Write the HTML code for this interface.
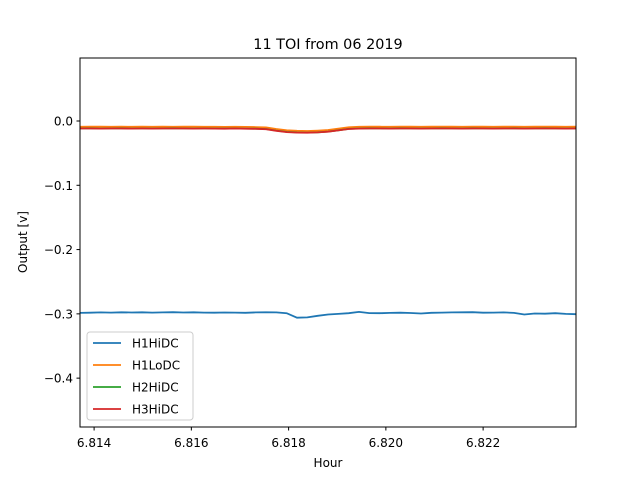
<!DOCTYPE html>
<html><head><meta charset="utf-8"><style>
body{margin:0;background:#fff;}
svg text{font-family:"DejaVu Sans","Liberation Sans",sans-serif;}
</style></head><body>
<svg id="chart" width="640" height="480" xmlns="http://www.w3.org/2000/svg">
<rect width="640" height="480" fill="#fff"/>
<text x="328" y="49" font-size="14.4" text-anchor="middle">11 TOI from 06 2019</text>
<g id="plot"></g>
<text x="328" y="467" font-size="12" text-anchor="middle">Hour</text>
<text x="0" y="0" font-size="12" text-anchor="middle" transform="translate(27,242) rotate(-90)">Output [v]</text>
</svg>
<script>
const xStart = 6.81371, xStep = 0.0002125;
const h1hidc = [-0.2985,-0.2982,-0.2978,-0.2980,-0.2976,-0.2979,-0.2975,-0.2981,-0.2977,-0.2974,-0.2979,-0.2976,-0.2980,-0.2982,-0.2979,-0.2981,-0.2983,-0.2978,-0.2975,-0.2977,-0.2990,-0.3060,-0.3055,-0.3030,-0.3010,-0.3000,-0.2990,-0.2970,-0.2988,-0.2990,-0.2985,-0.2982,-0.2986,-0.2995,-0.2984,-0.2980,-0.2978,-0.2976,-0.2974,-0.2982,-0.2980,-0.2977,-0.2985,-0.3010,-0.2995,-0.2998,-0.2990,-0.3000,-0.3005];
const h1lodc = [-0.0090,-0.0088,-0.0089,-0.0090,-0.0088,-0.0090,-0.0089,-0.0091,-0.0089,-0.0090,-0.0088,-0.0089,-0.0090,-0.0091,-0.0092,-0.0090,-0.0092,-0.0095,-0.0100,-0.0125,-0.0145,-0.0152,-0.0155,-0.0150,-0.0140,-0.0120,-0.0098,-0.0090,-0.0088,-0.0089,-0.0090,-0.0088,-0.0089,-0.0090,-0.0089,-0.0088,-0.0089,-0.0090,-0.0088,-0.0089,-0.0090,-0.0089,-0.0088,-0.0090,-0.0089,-0.0088,-0.0089,-0.0090,-0.0089];
const h2hidc = [-0.0115,-0.0114,-0.0116,-0.0115,-0.0114,-0.0116,-0.0115,-0.0116,-0.0115,-0.0114,-0.0115,-0.0116,-0.0115,-0.0116,-0.0117,-0.0115,-0.0118,-0.0120,-0.0125,-0.0150,-0.0170,-0.0178,-0.0180,-0.0175,-0.0165,-0.0145,-0.0123,-0.0116,-0.0114,-0.0115,-0.0116,-0.0114,-0.0115,-0.0116,-0.0115,-0.0114,-0.0115,-0.0116,-0.0114,-0.0115,-0.0116,-0.0115,-0.0114,-0.0116,-0.0115,-0.0114,-0.0115,-0.0116,-0.0115];
const h3hidc = [-0.0117,-0.0116,-0.0118,-0.0117,-0.0116,-0.0118,-0.0117,-0.0118,-0.0117,-0.0116,-0.0117,-0.0118,-0.0117,-0.0118,-0.0119,-0.0117,-0.0120,-0.0122,-0.0127,-0.0152,-0.0172,-0.0180,-0.0182,-0.0177,-0.0167,-0.0147,-0.0125,-0.0118,-0.0116,-0.0117,-0.0118,-0.0116,-0.0117,-0.0118,-0.0117,-0.0116,-0.0117,-0.0118,-0.0116,-0.0117,-0.0118,-0.0117,-0.0116,-0.0118,-0.0117,-0.0116,-0.0117,-0.0118,-0.0117];
const seriesNames = ["H1HiDC","H1LoDC","H2HiDC","H3HiDC"];
const seriesColors = ["#1f77b4","#ff7f0e","#2ca02c","#d62728"];
const xTicks = [6.814,6.816,6.818,6.820,6.822];
const xTickLabels = ["6.814","6.816","6.818","6.820","6.822"];
const yTicks = [0.0,-0.1,-0.2,-0.3,-0.4];
const yTickLabels = ["0.0","−0.1","−0.2","−0.3","−0.4"];

const L=80,R=576,T=58,B=427;
const xMin=6.81371,xMax=6.82391,yMin=-0.476,yMax=0.098;
const xs=v=>L+(v-xMin)/(xMax-xMin)*(R-L);
const ys=v=>B-(v-yMin)/(yMax-yMin)*(B-T);
const NS="http://www.w3.org/2000/svg";
const g=document.getElementById('plot');
function mk(t,a){const e=document.createElementNS(NS,t);for(const k in a)e.setAttribute(k,a[k]);g.appendChild(e);return e;}
const data=[h1hidc,h1lodc,h2hidc,h3hidc];
data.forEach((arr,si)=>{
  const pts=arr.map((v,i)=>xs(xStart+i*xStep).toFixed(1)+','+ys(v).toFixed(1)).join(' ');
  const p=mk('polyline',{points:pts,fill:'none',stroke:seriesColors[si],'stroke-width':1.8});
  
  
});
const frame=mk('rect',{x:L,y:T,width:R-L,height:B-T,fill:'none',stroke:'#000','stroke-width':1});


xTicks.forEach((v,i)=>{
  const x=xs(v);
  mk('line',{x1:x,x2:x,y1:B,y2:B+3.5,stroke:'#000'});
  const t=mk('text',{x:x,y:B+20,'font-size':12,'text-anchor':'middle'});
  t.textContent=xTickLabels[i];
  
  
});
yTicks.forEach((v,i)=>{
  const y=ys(v);
  mk('line',{x1:L-3.5,x2:L,y1:y,y2:y,stroke:'#000'});
  const t=mk('text',{x:L-7,y:y+4.5,'font-size':12,'text-anchor':'end'});
  t.textContent=yTickLabels[i];
  
  
});
const lg=mk('rect',{x:87,y:332,width:106,height:88,rx:3,fill:'#fff','fill-opacity':0.8,stroke:'#ccc'});


seriesNames.forEach((n,i)=>{
  const y=343+i*22;
  const l=mk('line',{x1:93,x2:121,y1:y,y2:y,stroke:seriesColors[i],'stroke-width':1.8});
  
  
  const t=mk('text',{x:132,y:y+4.5,'font-size':12});
  t.textContent=n;
  
  
});
</script>
</body></html>
